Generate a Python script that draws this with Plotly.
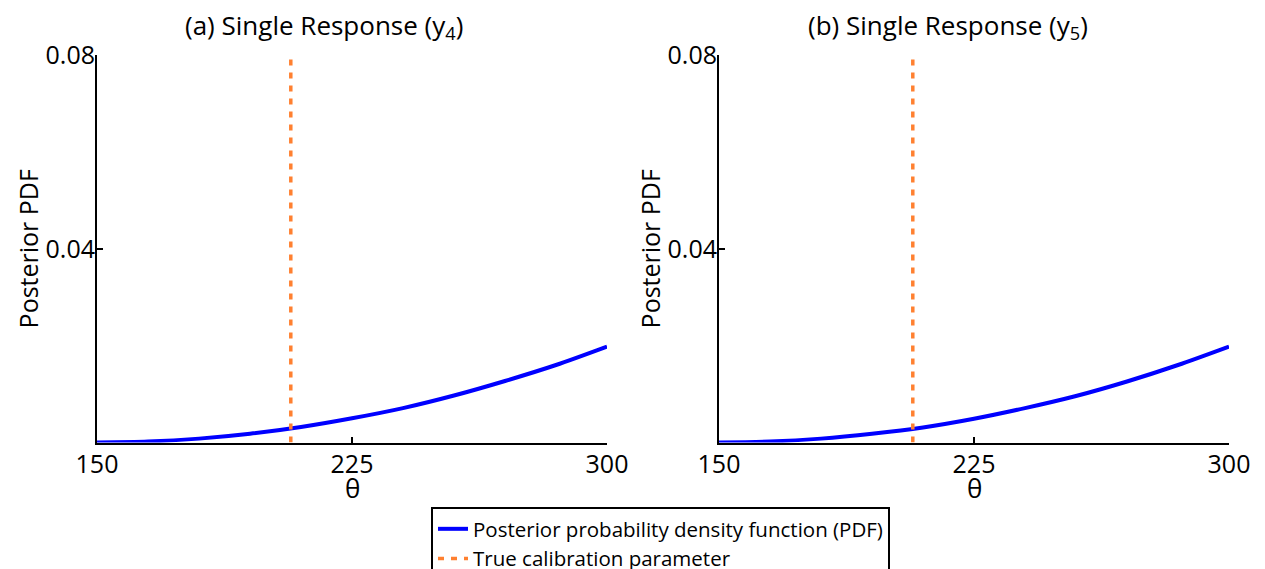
import plotly.graph_objects as go

theta = [150, 165, 180, 195, 210, 225, 240, 255, 270, 285, 300]
pdf_y4 = [0.0, 0.0002, 0.0008, 0.0018, 0.0032, 0.0050, 0.0071, 0.0097, 0.0127, 0.0160, 0.0198]
pdf_y5 = [0.0, 0.0002, 0.0008, 0.0018, 0.0031, 0.0049, 0.0071, 0.0096, 0.0126, 0.0160, 0.0198]
true_theta = 207
y_range = [0, 0.08]
x_ticks = [150, 225, 300]
y_ticks = [0.04, 0.08]
titles = ["(a) Single Response (y<sub>4</sub>)", "(b) Single Response (y<sub>5</sub>)"]
x_label = "θ"
y_label = "Posterior PDF"

W, H = 1265, 569
FONT = "Open Sans"
BLUE = "rgb(0,0,255)"
ORANGE = "rgb(255,128,48)"

fig = go.Figure()

panels = [("x", "y", pdf_y4, True), ("x2", "y2", pdf_y5, False)]
for xa, ya, vals, show in panels:
    fig.add_trace(go.Scatter(
        x=theta, y=vals, xaxis=xa, yaxis=ya, mode="lines",
        line=dict(color=BLUE, width=4, shape="spline", smoothing=0.8),
        name="Posterior probability density function (PDF)",
        showlegend=show, legendgroup="pdf", hoverinfo="skip"))
    fig.add_trace(go.Scatter(
        x=[true_theta, true_theta], y=y_range, xaxis=xa, yaxis=ya, mode="lines",
        line=dict(color=ORANGE, width=3.5, dash="6px,7px"),
        name="True calibration parameter",
        showlegend=show, legendgroup="true", hoverinfo="skip"))

left_px = [(97, 607), (719, 1229)]
top_px, bot_px = 55, 442.5

def xd(a, b):
    return [a / W, b / W]

ydom = [1 - bot_px / H, 1 - top_px / H]

axis_common = dict(
    showgrid=False, zeroline=False, showline=True, linecolor="black", linewidth=2,
    ticks="inside", ticklen=6, tickwidth=2, tickcolor="black",
    tickfont=dict(family=FONT, size=25, color="black"), mirror=False,
    automargin=False,
)

yt = dict(text=y_label, font=dict(family=FONT, size=25), standoff=0)

fig.update_layout(
    width=W, height=H, autosize=False,
    margin=dict(l=0, r=0, t=0, b=0, autoexpand=False),
    paper_bgcolor="white", plot_bgcolor="white",
    font=dict(family=FONT, color="black"),
    xaxis=dict(domain=xd(*left_px[0]), range=[150, 300], tickvals=x_ticks,
               anchor="y", ticklabelstandoff=-2, **axis_common),
    yaxis=dict(domain=ydom, range=y_range, tickvals=y_ticks, ticktext=["0.04", "0.08"],
               title=yt, anchor="x", ticklabelstandoff=-5, **axis_common),
    xaxis2=dict(domain=xd(*left_px[1]), range=[150, 300], tickvals=x_ticks,
                anchor="y2", ticklabelstandoff=-2, **axis_common),
    yaxis2=dict(domain=ydom, range=y_range, tickvals=y_ticks, ticktext=["0.04", "0.08"],
                title=yt, anchor="x2", ticklabelstandoff=-5, **axis_common),
    legend=dict(
        x=431 / W, y=1 - 507 / H, xanchor="left", yanchor="top",
        bordercolor="black", borderwidth=2, bgcolor="white",
        font=dict(family=FONT, size=20.5, color="black"),
        tracegroupgap=0, itemwidth=30,
    ),
    showlegend=True,
)

title_x = [324, 948]
for tx, t in zip(title_x, titles):
    fig.add_annotation(text=t, x=tx / W, y=1 - 26 / H, xref="paper", yref="paper",
                       xanchor="center", yanchor="middle", showarrow=False,
                       font=dict(family=FONT, size=26, color="black"))

for a, b in left_px:
    fig.add_annotation(text=x_label, x=(a + b) / 2 / W, y=1 - 488 / H,
                       xref="paper", yref="paper", xanchor="center", yanchor="middle",
                       showarrow=False, font=dict(family=FONT, size=26, color="black"))

fig.write_html("out.html")
